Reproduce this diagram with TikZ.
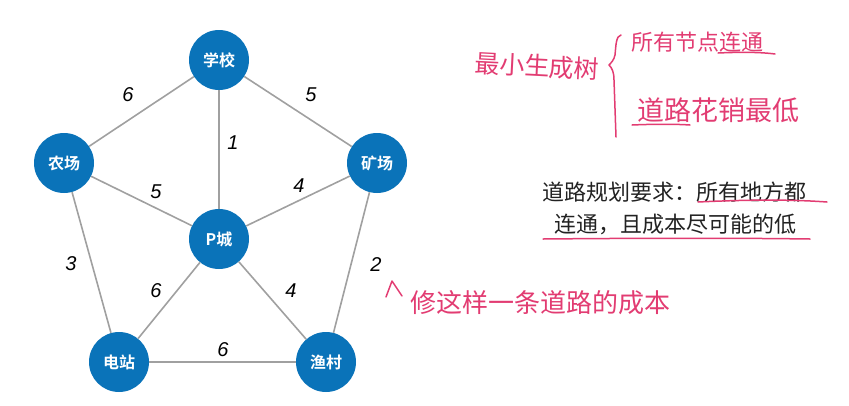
\documentclass[tikz,border=0pt]{standalone}
\usepackage{fontspec}
\setmainfont{Liberation Sans}
\newfontfamily\cjk{Noto Sans CJK SC}
\newfontfamily\cjkb{Noto Sans CJK SC Bold}
\definecolor{nodeblue}{HTML}{0A73B9}
\definecolor{edgegray}{HTML}{A0A0A0}
\definecolor{inkpink}{HTML}{E23C72}
\definecolor{textdark}{HTML}{222222}
\tikzset{
  city/.style={circle, fill=nodeblue, minimum size=60pt, inner sep=0pt, text=white, font=\cjkb\fontsize{16pt}{18pt}\selectfont},
  road/.style={draw=edgegray, line width=1.6pt},
  weight/.style={font=\itshape\fontsize{20pt}{22pt}\selectfont, text=black, inner sep=0pt},
  hand/.style={text=inkpink, inner sep=0pt},
  inkline/.style={draw=inkpink, line width=1.5pt, line cap=round, line join=round},
  req/.style={text=textdark, inner sep=0pt, font=\cjk\fontsize{22pt}{24pt}\selectfont}
}
\begin{document}
\begin{tikzpicture}[x=1pt,y=-1pt]
\useasboundingbox (0,0) rectangle (849,405);
% nodes
\node[city] (school) at (219,60) {学校};
\node[city] (farm) at (64,163) {农场};
\node[city] (mine) at (377,163) {矿场};
\node[city] (pcity) at (219,239) {P城};
\node[city] (power) at (119,362) {电站};
\node[city] (fish) at (326,362) {渔村};
% edges
\path[road] (school) -- (farm);
\path[road] (school) -- (mine);
\path[road] (school) -- (pcity);
\path[road] (farm) -- (pcity);
\path[road] (mine) -- (pcity);
\path[road] (farm) -- (power);
\path[road] (mine) -- (fish);
\path[road] (pcity) -- (power);
\path[road] (pcity) -- (fish);
\path[road] (power) -- (fish);
% weights
\node[weight] (w1) at (128,95) {6};
\node[weight] (w2) at (311,95) {5};
\node[weight] (w3) at (233,143) {1};
\node[weight] (w4) at (156,192) {5};
\node[weight] (w5) at (299,186) {4};
\node[weight] (w6) at (71,264) {3};
\node[weight] (w7) at (376,265) {2};
\node[weight] (w8) at (156,291) {6};
\node[weight] (w9) at (291,291) {4};
\node[weight] (w10) at (223,350) {6};
% requirement text
\node[req] (req1) at (674,192) {道路规划要求：所有地方都};
\node[req] (req2) at (675,224) {连通，且成本尽可能的低};
\draw[inkline] (698,202) .. controls (760,199) and (800,200) .. (827,202);
\draw[inkline] (543,239) .. controls (650,238) and (740,238) .. (810,239);
% handwritten notes
\node[hand, font=\cjk\fontsize{25pt}{27pt}\selectfont, rotate=-3] (mst) at (537,66) {最小生成树};
\draw[inkline] (621,35) .. controls (616,36) and (616,45) .. (615,55)
  .. controls (614,60) and (611,63) .. (609,65)
  .. controls (612,68) and (614,72) .. (614,80)
  -- (616,137);
\node[hand, font=\cjk\fontsize{22pt}{24pt}\selectfont] (all) at (697,42) {所有节点连通};
\draw[inkline] (718,53) .. controls (740,52) and (760,52) .. (775,54);
\node[hand, font=\cjk\fontsize{27pt}{29pt}\selectfont] (cost) at (718,110) {道路花销最低};
\draw[inkline] (632,125) .. controls (655,124) and (675,124) .. (690,125);
\coordinate (caretA) at (386,297);
\coordinate (caretB) at (392,281);
\coordinate (caretC) at (402,296);
\draw[inkline] (caretA) -- (caretB) -- (caretC);
\node[hand, font=\cjk\fontsize{26pt}{28pt}\selectfont] (build) at (540,303) {修这样一条道路的成本};
\end{tikzpicture}
\end{document}
